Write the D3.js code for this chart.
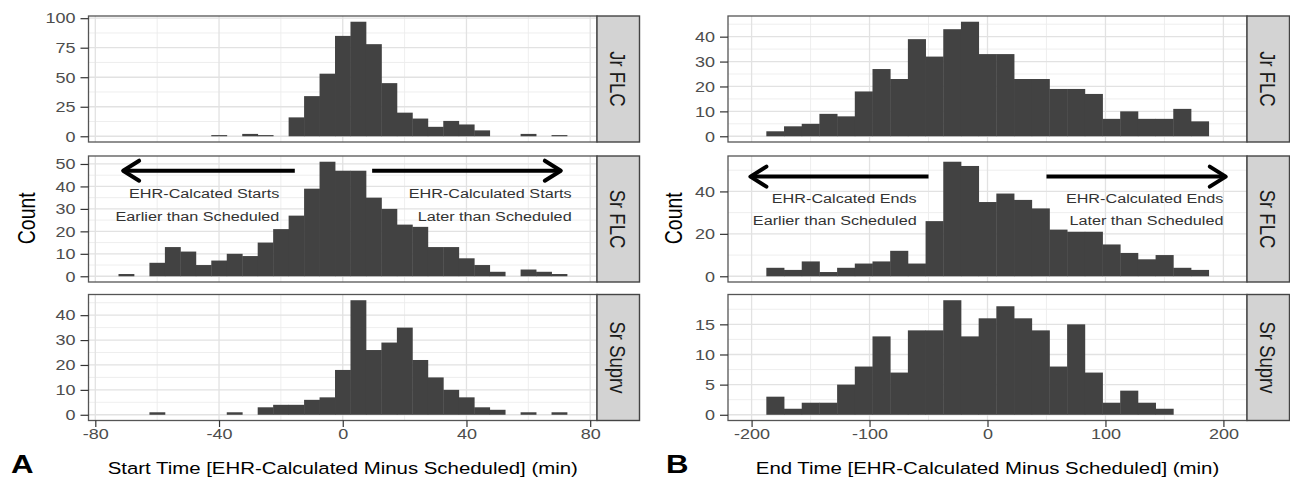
<!DOCTYPE html>
<html>
<head>
<meta charset="utf-8">
<script src="https://cdn.jsdelivr.net/npm/d3@7.9.0/dist/d3.min.js"></script>
<style>
  body { margin: 0; background: #fff; }
  svg { display: block; font-family: "Liberation Sans", Arial, sans-serif; }
</style>
</head>
<body>
<svg id="chart" width="1290" height="479"></svg>
<script>
// facet rows
const facets = ['Jr FLC', 'Sr FLC', 'Sr Suprv'];

// panel A: start time, 5-min bins (centres)
const startBins = [-70, -65, -60, -55, -50, -45, -40, -35, -30, -25, -20, -15, -10, -5, 0,
  5, 10, 15, 20, 25, 30, 35, 40, 45, 50, 55, 60, 65, 70];
const startJr  = [0, 0, 0, 0, 0, 0, 1, 0, 2, 1, 0, 16, 34, 53, 85, 97, 78, 45, 20, 15, 8, 13, 10, 5, 0, 0, 2, 0, 1];
const startSr  = [1, 0, 6, 13, 11, 5, 7, 10, 9, 15, 21, 27, 39, 51, 47, 47, 35, 30, 23, 22, 13, 13, 8, 5, 2, 0, 3, 2, 1];
const startSup = [0, 0, 1, 0, 0, 0, 0, 1, 0, 3, 4, 4, 6, 7, 18, 46, 26, 29, 35, 22, 15, 10, 7, 3, 2, 0, 1, 0, 1];
const startYTicks = [[0, 25, 50, 75, 100], [0, 10, 20, 30, 40, 50], [0, 10, 20, 30, 40]];
const startXTicks = [-80, -40, 0, 40, 80];

// panel B: end time, 15-min bins (centres)
const endBins = [-180, -165, -150, -135, -120, -105, -90, -75, -60, -45, -30, -15, 0,
  15, 30, 45, 60, 75, 90, 105, 120, 135, 150, 165, 180];
const endJr  = [2, 4, 5, 9, 8, 18, 27, 23, 39, 32, 43, 46, 33, 33, 23, 23, 19, 19, 17, 7, 10, 7, 7, 11, 6];
const endSr  = [4, 3, 7, 2, 4, 6, 7, 12, 6, 26, 54, 52, 35, 39, 36, 32, 22, 21, 21, 15, 11, 8, 10, 4, 3];
const endSup = [3, 1, 2, 2, 5, 8, 13, 7, 14, 14, 19, 13, 16, 18, 16, 14, 8, 15, 7, 2, 4, 2, 1, 0, 0];
const endYTicks = [[0, 10, 20, 30, 40], [0, 20, 40], [0, 5, 10, 15]];
const endXTicks = [-200, -100, 0, 100, 200];

// annotations on the Sr FLC row (data coordinates)
const startArrows = [{ from: -15.5, to: -71, y: 47 }, { from: 9.5, to: 70.5, y: 47 }];
const startNotes = [
  { x: -20.5, lines: ['EHR-Calcated Starts', 'Earlier than Scheduled'] },
  { x: 74, lines: ['EHR-Calculated Starts', 'Later than Scheduled'] }
];
const endArrows = [{ from: -50, to: -201, y: 47 }, { from: 50, to: 202, y: 47 }];
const endNotes = [
  { x: -60, lines: ['EHR-Calcated Ends', 'Earlier than Scheduled'] },
  { x: 200, lines: ['EHR-Calculated Ends', 'Later than Scheduled'] }
];
const noteRows = [37, 26.6];

// layout
const SX = 1.2;            // the source image is stretched sideways
const ROW_TOP = [16, 156, 294.5];
const ROW_H = 126;
const STRIP_W = 42.5;
const BAR = '#424242';

const charts = [
  { tag: 'A', title: 'Start Time [EHR-Calculated Minus Scheduled] (min)',
    bins: startBins, width: 5, series: [startJr, startSr, startSup],
    yTicks: startYTicks, xTicks: startXTicks, xDomain: [-82.2, 82.2],
    left: 88.5, right: 597, countX: 27, tagX: 11, arrows: startArrows, notes: startNotes },
  { tag: 'B', title: 'End Time [EHR-Calculated Minus Scheduled] (min)',
    bins: endBins, width: 15, series: [endJr, endSr, endSup],
    yTicks: endYTicks, xTicks: endXTicks, xDomain: [-220, 220],
    left: 728, right: 1247, countX: 674, tagX: 666, arrows: endArrows, notes: endNotes }
];

const svg = d3.select('#chart');

function stretchedText(g, x, y, str, size, opts = {}) {
  return g.append('text')
    .attr('transform', `translate(${x},${y}) scale(${SX},1)` + (opts.rotate ? ` rotate(${opts.rotate})` : ''))
    .attr('text-anchor', opts.anchor || 'middle')
    .attr('dy', opts.dy == null ? '0.35em' : opts.dy)
    .attr('fill', opts.color || '#000')
    .attr('font-weight', opts.weight || null)
    .style('font-size', size + 'px')
    .text(str);
}

charts.forEach(c => {
  const x = d3.scaleLinear().domain(c.xDomain).range([c.left, c.right]);
  const xMinor = c.xTicks.slice(1).map((t, i) => (t + c.xTicks[i]) / 2);

  facets.forEach((name, r) => {
    const top = ROW_TOP[r];
    const bottom = top + ROW_H;
    const vals = c.series[r];
    const maxV = d3.max(vals);
    const y = d3.scaleLinear().domain([-0.05 * maxV, 1.05 * maxV]).range([bottom, top]);
    const yt = c.yTicks[r];
    const step = yt[1] - yt[0];
    const yMinor = yt.map(t => t + step / 2).filter(v => v < y.domain()[1]);

    const g = svg.append('g');
    g.append('rect')
      .attr('x', c.left).attr('y', top)
      .attr('width', c.right - c.left).attr('height', ROW_H)
      .attr('fill', '#fff');

    // grid
    g.selectAll('line.ymin').data(yMinor).join('line')
      .attr('x1', c.left).attr('x2', c.right)
      .attr('y1', d => y(d)).attr('y2', d => y(d))
      .attr('stroke', '#ececec').attr('stroke-width', 0.9);
    g.selectAll('line.xmin').data(xMinor).join('line')
      .attr('y1', top).attr('y2', bottom)
      .attr('x1', d => x(d)).attr('x2', d => x(d))
      .attr('stroke', '#ececec').attr('stroke-width', 0.9);
    g.selectAll('line.ymaj').data(yt).join('line')
      .attr('x1', c.left).attr('x2', c.right)
      .attr('y1', d => y(d)).attr('y2', d => y(d))
      .attr('stroke', '#e2e2e2').attr('stroke-width', 1.3);
    g.selectAll('line.xmaj').data(c.xTicks).join('line')
      .attr('y1', top).attr('y2', bottom)
      .attr('x1', d => x(d)).attr('x2', d => x(d))
      .attr('stroke', '#e2e2e2').attr('stroke-width', 1.3);

    // histogram bars
    const binned = c.bins.map((b, i) => ({ b, v: vals[i] })).filter(d => d.v > 0);
    g.selectAll('rect.bar').data(binned).join('rect')
      .attr('x', d => x(d.b - c.width / 2))
      .attr('width', d => x(d.b + c.width / 2) - x(d.b - c.width / 2) + 0.4)
      .attr('y', d => y(d.v))
      .attr('height', d => y(0) - y(d.v))
      .attr('fill', BAR);

    // arrows + notes on the middle row
    if (r === 1) {
      c.arrows.forEach(a => {
        const yy = y(a.y), xs = x(a.from), xt = x(a.to);
        const dir = Math.sign(xt - xs);
        g.append('line')
          .attr('x1', xs).attr('x2', xt - dir * 2)
          .attr('y1', yy).attr('y2', yy)
          .attr('stroke', '#000').attr('stroke-width', 4);
        g.append('path')
          .attr('d', `M${xt - dir * 16},${yy - 10}L${xt},${yy}L${xt - dir * 16},${yy + 10}`)
          .attr('fill', 'none').attr('stroke', '#000').attr('stroke-width', 4)
          .attr('stroke-linejoin', 'round').attr('stroke-linecap', 'round');
      });
      c.notes.forEach(n => {
        n.lines.forEach((ln, k) => {
          stretchedText(g, x(n.x), y(noteRows[k]), ln, 13.5, { anchor: 'end', color: '#333' });
        });
      });
    }

    // panel border
    g.append('rect')
      .attr('x', c.left).attr('y', top)
      .attr('width', c.right - c.left).attr('height', ROW_H)
      .attr('fill', 'none').attr('stroke', '#555').attr('stroke-width', 1.3);

    // y axis
    const ay = g.append('g').attr('transform', `translate(${c.left},0)`)
      .call(d3.axisLeft(y).tickValues(yt).tickFormat(d => String(d)).tickSize(8).tickPadding(5));
    ay.attr('font-family', null).attr('font-size', null);
    ay.select('.domain').remove();
    ay.selectAll('line').attr('stroke', '#333').attr('stroke-width', 1.2);
    ay.selectAll('text')
      .attr('x', -13 / SX)
      .attr('transform', `scale(${SX},1)`)
      .attr('fill', '#4d4d4d')
      .style('font-size', '15px');

    // x axis on bottom row only
    if (r === facets.length - 1) {
      const ax = g.append('g').attr('transform', `translate(0,${bottom})`)
        .call(d3.axisBottom(x).tickValues(c.xTicks).tickFormat(d => String(d)).tickSize(6.5).tickPadding(1));
      ax.attr('font-family', null).attr('font-size', null);
      ax.select('.domain').remove();
      ax.selectAll('line').attr('stroke', '#333').attr('stroke-width', 1.2);
      ax.selectAll('text')
        .attr('transform', `scale(${SX},1)`)
        .attr('fill', '#4d4d4d')
        .style('font-size', '15px');
    }

    // strip
    g.append('rect')
      .attr('x', c.right).attr('y', top)
      .attr('width', STRIP_W).attr('height', ROW_H)
      .attr('fill', '#d3d3d3').attr('stroke', '#444').attr('stroke-width', 1.4);
    stretchedText(g, c.right + STRIP_W / 2, top + ROW_H / 2, name, 18.5, { rotate: 90, color: '#1a1a1a' });
  });

  // titles
  const mid = (ROW_TOP[0] + ROW_TOP[2] + ROW_H) / 2;
  stretchedText(svg, c.countX, mid, 'Count', 19.5, { rotate: -90 });
  stretchedText(svg, (c.left + c.right) / 2, 474, c.title, 17, { dy: 0 });
  stretchedText(svg, c.tagX, 473, c.tag, 26, { anchor: 'start', dy: 0, weight: 'bold' });
});
</script>
</body>
</html>
